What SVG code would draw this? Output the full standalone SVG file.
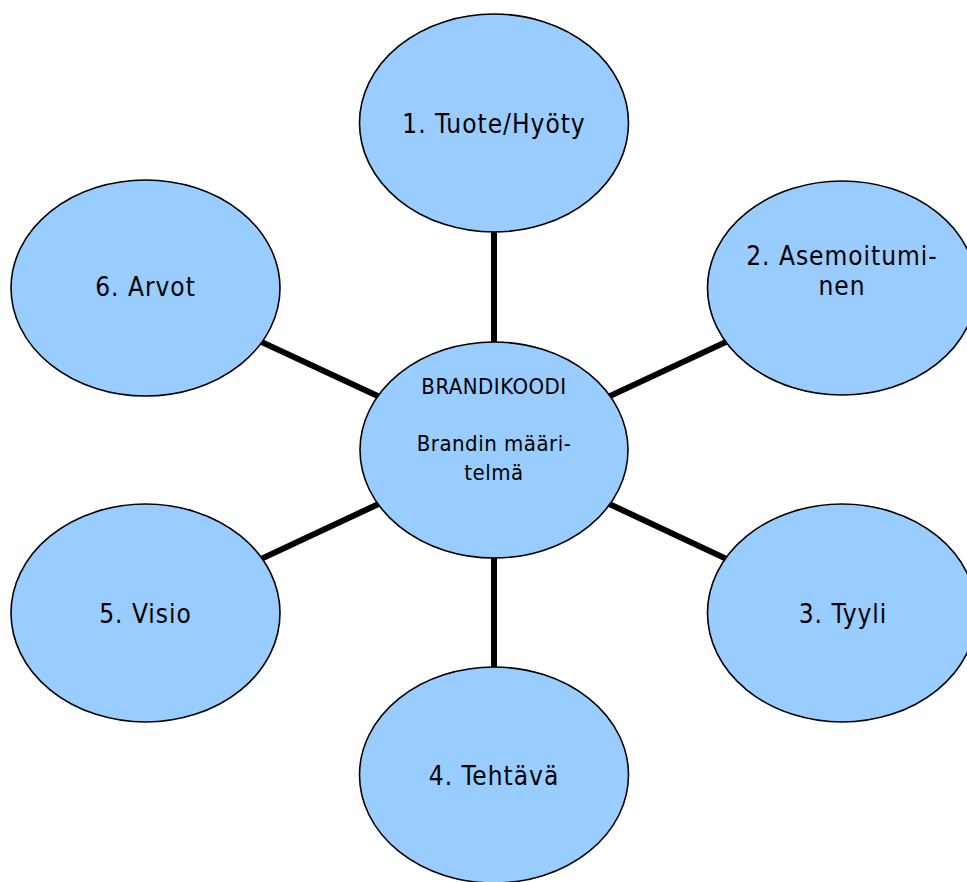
<svg xmlns="http://www.w3.org/2000/svg" width="967" height="882" viewBox="0 0 967 882">
  <style>
    .node ellipse { fill: #99ccff; stroke: #000; stroke-width: 1.6; }
    .node text { font-family: "DejaVu Sans Condensed", "DejaVu Sans", sans-serif; font-size: 26px; letter-spacing: 1px; fill: #000; text-anchor: middle; }
    #hub text { font-size: 22px; letter-spacing: 0.5px; }
    #links line { stroke: #000; stroke-width: 6; }
  </style>
  <rect width="967" height="882" fill="#fff"/>
  <!-- spokes from the hub to each outer node -->
  <g id="links">
    <line x1="494" y1="450" x2="494" y2="123"/>
    <line x1="494" y1="450" x2="842" y2="288"/>
    <line x1="494" y1="450" x2="842" y2="613"/>
    <line x1="494" y1="450" x2="494" y2="775"/>
    <line x1="494" y1="450" x2="145.5" y2="613"/>
    <line x1="494" y1="450" x2="145.5" y2="288"/>
  </g>
  <g id="node1" class="node">
    <ellipse cx="494" cy="123" rx="134.5" ry="109"/>
    <text x="494" y="133">1. Tuote/Hyöty</text>
  </g>
  <g id="node2" class="node">
    <ellipse cx="842" cy="288" rx="134.5" ry="107"/>
    <text x="842" y="265">2. Asemoitumi-</text>
    <text x="842" y="295">nen</text>
  </g>
  <g id="node3" class="node">
    <ellipse cx="842" cy="613" rx="134.5" ry="109"/>
    <text x="843" y="623">3. Tyyli</text>
  </g>
  <g id="node4" class="node">
    <ellipse cx="494" cy="775" rx="134.5" ry="108"/>
    <text x="494" y="785">4. Tehtävä</text>
  </g>
  <g id="node5" class="node">
    <ellipse cx="145.5" cy="613" rx="134.5" ry="109"/>
    <text x="145.5" y="623">5. Visio</text>
  </g>
  <g id="node6" class="node">
    <ellipse cx="145.5" cy="288" rx="134.5" ry="108"/>
    <text x="145.5" y="296">6. Arvot</text>
  </g>
  <g id="hub" class="node">
    <ellipse cx="494" cy="450" rx="134" ry="108"/>
    <text x="494" y="394">BRANDIKOODI</text>
    <text x="494" y="451">Brandin määri-</text>
    <text x="494" y="480">telmä</text>
  </g>
</svg>
